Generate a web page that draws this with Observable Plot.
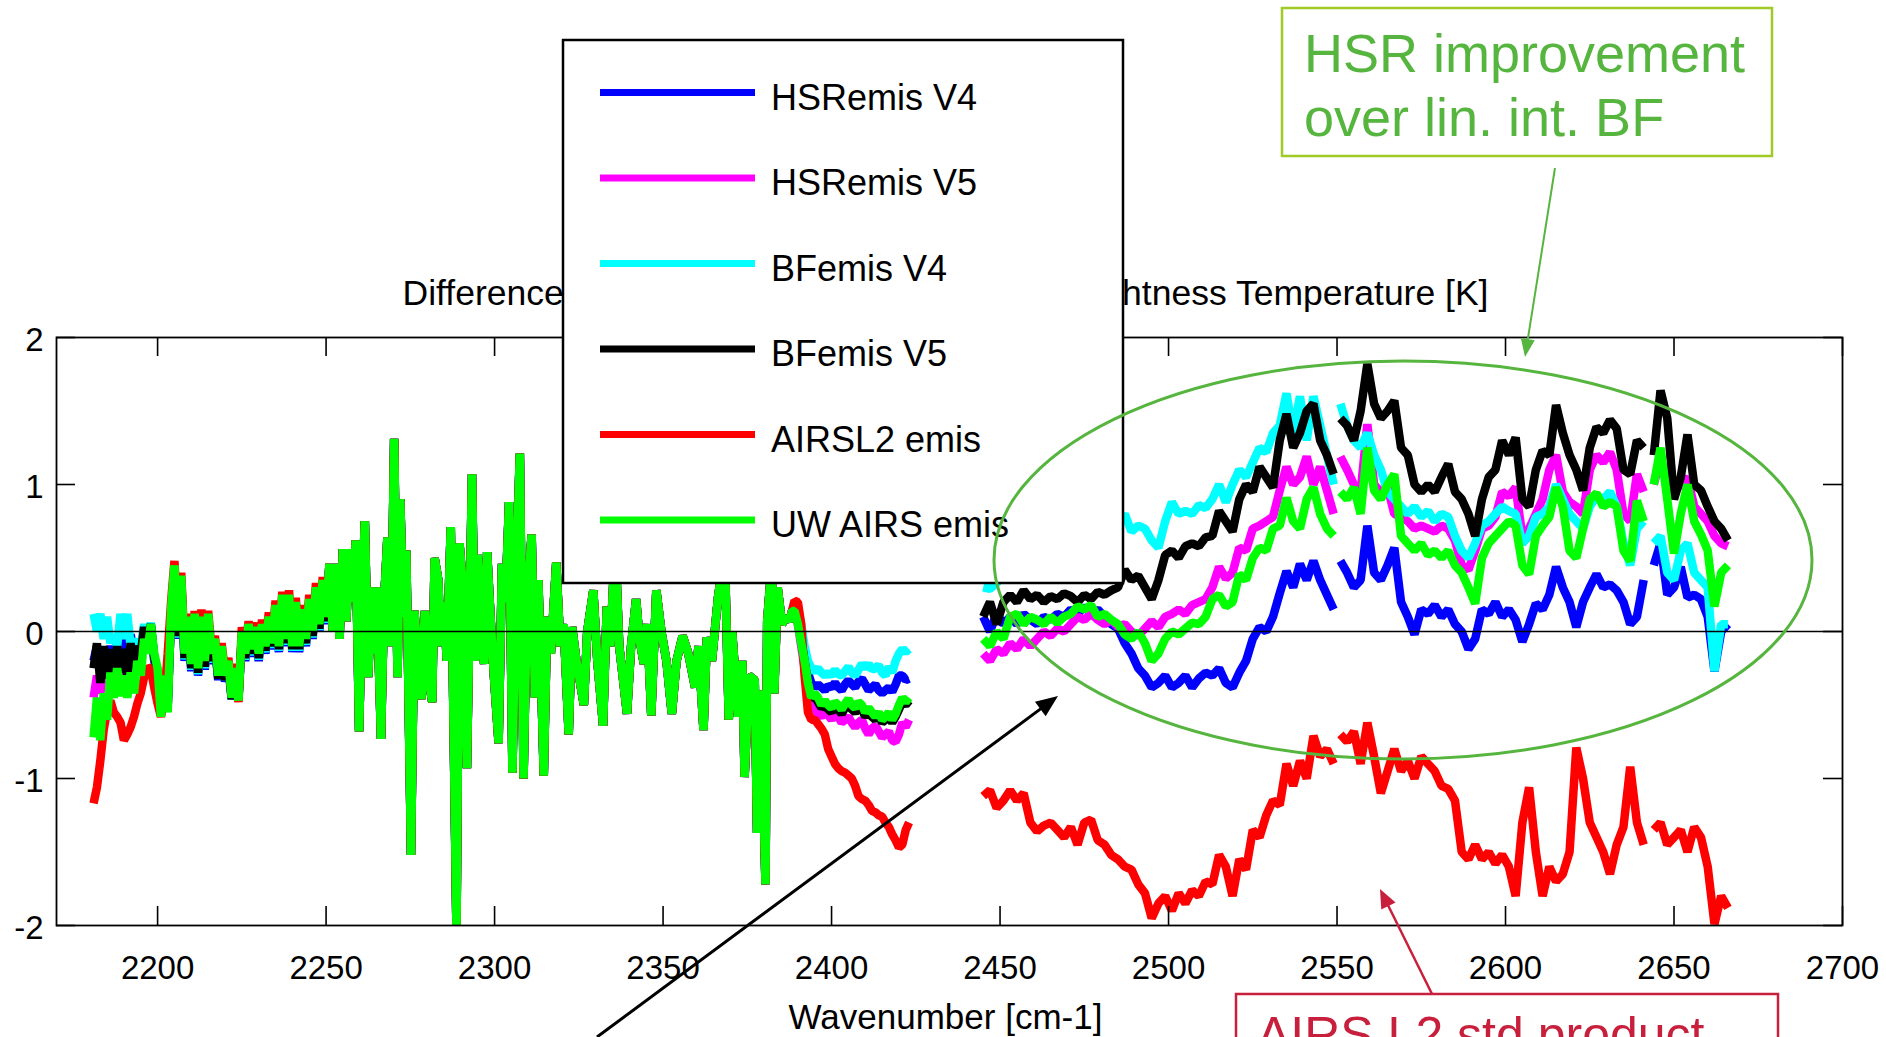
<!DOCTYPE html>
<html>
<head>
<meta charset="utf-8">
<script src="https://cdn.jsdelivr.net/npm/d3@7"></script>
<script src="https://cdn.jsdelivr.net/npm/@observablehq/plot@0.6"></script>
<style>
  html, body { margin: 0; padding: 0; background: #fff; overflow: hidden; }
  #chart { position: relative; width: 1886px; height: 1037px; }
</style>
</head>
<body>
<div id="chart"></div>
<script>
// ---------------- DATA ----------------
const titleText = "Difference of Calculated minus Observed Brightness Temperature [K]";
const xLabel = "Wavenumber [cm-1]";
const xTicks = [2200, 2250, 2300, 2350, 2400, 2450, 2500, 2550, 2600, 2650, 2700];
const yTicks = [-2, -1, 0, 1, 2];
const seriesNames = ["HSRemis V4", "HSRemis V5", "BFemis V4", "BFemis V5", "AIRSL2 emis", "UW AIRS emis"];
const seriesColors = ["#0000ff", "#ff00ff", "#00ffff", "#000000", "#ff0000", "#00ff00"];

// wavenumber grids of the segments
const wnLeft = d3.range(2181, 2251);      // 2181..2250
const wnC = d3.range(2389, 2424);         // 2389..2423
const wnD1 = d3.range(2445, 2550, 2);     // 2445..2549
const wnD2 = d3.range(2551, 2642, 2);     // 2551..2641
const wnD3 = d3.range(2644, 2667, 2);     // 2644..2666

// shared spiky middle band (all series coincide there)
const midWn = [2251,2252,2253,2254,2255,2256,2257,2258,2258.8,2259.8,
  2260.8,2261.5,2262.5,2263.5,2264.3,2265,2266.3,2267.2,2268.2,2269.3,
  2270.2,2271.2,2272,2273,2273.8,2275.2,2276.2,2277.3,2278.3,2279.3,
  2280.3,2281.5,2282.2,2283.3,2284,2285,2285.8,2287,2288.7,2289.6,
  2290.6,2291.8,2293.3,2294.2,2295,2296,2296.9,2297.8,2298.8,2299.8,
  2301.2,2302.2,2303.2,2304.3,2305.3,2306.3,2307.5,2308.6,2309.6,2311,
  2312,2313,2314.6,2315.6,2316.7,2318.3,2319.5,2320.5,2322,2323,
  2324.3,2326.5,2327.5,2329.3,2330.5,2332.2,2333.3,2334.3,2335.8,2337,
  2339.3,2340.5,2342,2343,2344.3,2345.3,2346.5,2348,2349.5,2351,
  2352.6,2354,2355.8,2357.5,2359.5,2360.5,2362,2363,2364.5,2366.3,
  2368.3,2369.5,2370.5,2372.3,2373.5,2374.2,2375.5,2377.2,2377.9,2379,
  2380.4,2380.9,2382.2,2383,2384,2385.3,2386.5,2387.5,2388.3];
const midVal = [0.46,0.0,0.46,-0.05,0.56,0.07,0.56,0.2,0.62,-0.68,
  0.3,0.75,-0.31,0.3,-0.15,0.3,-0.73,0.2,0.64,-0.1,
  1.31,-0.31,0.9,0.1,0.55,-1.52,0.14,-0.2,-0.46,0.14,
  -0.3,-0.48,0.5,0.35,-0.1,0.2,-0.2,0.71,-2.05,0.6,
  0.3,-0.93,1.07,-0.2,0.52,0.0,-0.22,0.54,0.1,-0.3,
  -0.76,0.46,0.2,0.88,-0.96,0.3,1.21,-1.0,0.2,0.66,
  -0.45,0.35,-0.98,0.1,-0.15,0.47,-0.1,0.05,-0.7,0.03,
  -0.2,-0.5,0.0,0.28,-0.2,-0.64,0.17,-0.1,0.6,-0.1,
  -0.56,-0.1,0.22,-0.05,-0.22,0.05,-0.57,0.28,0.0,-0.2,
  -0.56,-0.2,-0.03,-0.15,-0.38,-0.1,-0.67,-0.04,-0.2,0.23,
  0.55,-0.6,0.0,-0.58,-0.2,-0.99,-0.3,-0.33,-1.37,-0.4,
  -1.72,0.07,0.45,-0.42,0.3,0.05,0.1,0.07,0.14];

// HSRemis V4 (blue)
const hsr4_A = [-0.2,-0.1,-0.22,-0.12,-0.2,-0.1,-0.18,-0.08,-0.15,-0.05,
  -0.12,-0.02,-0.15,-0.08,-0.12,0.0,-0.12,0.02,-0.2,-0.28,
  -0.55,-0.32,-0.5,0.12,0.4,-0.05,0.33,-0.2,0.05,-0.27,
  0.07,-0.3,0.05,-0.26,0.07,-0.22,-0.1,-0.33,-0.15,-0.34,
  -0.24,-0.46,-0.3,-0.45,-0.05,-0.2,0.0,-0.17,-0.02,-0.2,
  0.0,-0.15,0.05,-0.12,0.13,-0.14,0.2,-0.1,0.2,-0.14,
  0.15,-0.14,0.1,-0.1,0.17,-0.05,0.25,0.0,0.3,0.05];
const hsr4_C = [0.18,0.12,0.0,-0.15,-0.28,-0.35,-0.38,-0.36,-0.38,-0.4,
  -0.37,-0.38,-0.35,-0.38,-0.4,-0.36,-0.33,-0.36,-0.38,-0.34,
  -0.32,-0.36,-0.4,-0.38,-0.36,-0.4,-0.42,-0.4,-0.38,-0.41,
  -0.36,-0.3,-0.3,-0.33,-0.32];
const hsr4_D1 = [0.1,0.0,0.12,0.05,0.1,0.05,0.12,0.08,0.05,0.1,
  0.08,0.12,0.1,0.15,0.12,0.17,0.12,0.15,0.1,0.05,
  0.02,-0.08,-0.15,-0.25,-0.3,-0.38,-0.35,-0.3,-0.38,-0.35,
  -0.3,-0.38,-0.32,-0.28,-0.3,-0.25,-0.35,-0.38,-0.28,-0.2,
  -0.05,0.03,0.0,0.1,0.26,0.41,0.3,0.46,0.35,0.48,
  0.35,0.25,0.15];
const hsr4_D2 = [0.48,0.4,0.3,0.35,0.72,0.4,0.35,0.45,0.57,0.2,
  0.1,-0.02,0.15,0.12,0.18,0.1,0.15,0.05,0.0,-0.12,
  -0.05,0.15,0.12,0.2,0.1,0.15,0.08,-0.07,0.05,0.19,
  0.15,0.25,0.44,0.3,0.2,0.03,0.2,0.3,0.39,0.3,
  0.32,0.28,0.2,0.05,0.1,0.35];
const hsr4_D3 = [0.45,0.6,0.25,0.3,0.44,0.23,0.25,0.22,0.1,-0.27,0.0,0.05];

// HSRemis V5 (magenta)
const hsr5_A = [-0.45,-0.3,-0.42,-0.28,-0.35,-0.25,-0.32,-0.22,-0.35,-0.28,
  -0.35,-0.22,-0.3,-0.15,-0.2,-0.03,-0.13,0.04,-0.17,-0.27,
  -0.57,-0.31,-0.52,0.13,0.43,-0.02,0.36,-0.17,0.08,-0.24,
  0.1,-0.27,0.08,-0.22,0.1,-0.18,-0.07,-0.31,-0.12,-0.32,
  -0.22,-0.46,-0.27,-0.47,-0.02,-0.17,0.03,-0.14,0.01,-0.17,
  0.03,-0.12,0.08,-0.1,0.16,-0.12,0.23,-0.07,0.23,-0.12,
  0.18,-0.12,0.13,-0.07,0.2,-0.02,0.28,0.03,0.33,0.08];
const hsr5_C = [0.14,0.05,-0.1,-0.25,-0.4,-0.5,-0.52,-0.56,-0.58,-0.55,
  -0.57,-0.6,-0.56,-0.58,-0.62,-0.6,-0.58,-0.62,-0.65,-0.62,
  -0.6,-0.66,-0.7,-0.66,-0.64,-0.68,-0.72,-0.7,-0.68,-0.74,
  -0.75,-0.7,-0.62,-0.65,-0.6];
const hsr5_D1 = [-0.15,-0.2,-0.12,-0.15,-0.08,-0.12,-0.05,-0.1,-0.05,0.0,
  -0.03,0.02,0.0,0.05,0.1,0.08,0.12,0.08,0.05,0.08,
  0.03,0.05,0.0,-0.03,0.02,0.07,0.03,0.1,0.12,0.15,
  0.12,0.18,0.2,0.22,0.3,0.44,0.36,0.4,0.57,0.55,
  0.7,0.72,0.75,0.78,0.96,1.12,1.0,1.05,1.19,1.0,
  1.12,0.96,0.8];
const hsr5_D2 = [1.19,1.1,1.0,0.95,1.41,1.0,0.95,0.98,0.8,0.78,
  0.75,0.7,0.72,0.7,0.68,0.72,0.7,0.62,0.45,0.42,
  0.55,0.7,0.72,0.78,0.95,0.92,0.98,0.65,0.7,0.8,
  0.9,1.1,1.2,0.95,0.88,0.85,0.8,1.1,1.2,1.15,
  1.22,1.1,0.8,0.75,1.07,0.95];
const hsr5_D3 = [1.0,1.18,1.0,0.95,1.0,1.05,0.85,0.8,0.75,0.65,0.6,0.58];

// BFemis V4 (cyan)
const bf4_A = [0.12,0.0,0.12,-0.05,0.1,-0.08,-0.02,-0.1,0.12,-0.05,
  0.12,-0.1,-0.05,-0.17,-0.1,0.05,-0.1,0.06,-0.18,-0.27,
  -0.56,-0.31,-0.5,0.13,0.41,-0.04,0.34,-0.19,0.06,-0.26,
  0.08,-0.29,0.06,-0.25,0.08,-0.21,-0.09,-0.32,-0.14,-0.33,
  -0.23,-0.46,-0.29,-0.46,-0.04,-0.19,0.01,-0.16,-0.01,-0.19,
  0.01,-0.14,0.06,-0.11,0.14,-0.13,0.21,-0.09,0.21,-0.13,
  0.16,-0.13,0.11,-0.09,0.18,-0.04,0.26,0.01,0.31,0.06];
const bf4_C = [0.2,0.15,0.05,-0.1,-0.2,-0.25,-0.27,-0.25,-0.28,-0.3,
  -0.28,-0.3,-0.26,-0.29,-0.3,-0.27,-0.24,-0.28,-0.3,-0.26,
  -0.22,-0.25,-0.22,-0.26,-0.25,-0.23,-0.28,-0.3,-0.24,-0.28,
  -0.2,-0.15,-0.12,-0.14,-0.12];
const bf4_D1 = [0.3,0.29,0.33,0.38,0.4,0.42,0.45,0.48,0.5,0.52,
  0.5,0.55,0.58,0.6,0.62,0.6,0.65,0.68,0.7,0.68,
  0.72,0.8,0.68,0.72,0.7,0.62,0.57,0.75,0.88,0.8,
  0.82,0.8,0.86,0.84,0.9,1.0,0.88,1.0,1.1,1.05,
  1.15,1.25,1.22,1.35,1.4,1.62,1.35,1.6,1.3,1.6,
  1.4,1.2,1.0];
const bf4_D2 = [1.55,1.4,1.3,1.25,1.35,1.2,1.1,0.95,0.9,0.85,
  0.8,0.85,0.78,0.82,0.75,0.8,0.78,0.65,0.55,0.5,
  0.6,0.72,0.75,0.8,0.85,0.82,0.8,0.6,0.65,0.78,
  0.8,0.85,1.0,0.9,0.8,0.75,0.7,0.85,0.92,0.9,
  0.95,0.85,0.6,0.45,0.7,0.75];
const bf4_D3 = [0.6,0.65,0.4,0.35,0.55,0.6,0.4,0.35,0.3,-0.27,0.05,0.05];

// BFemis V5 (black)
const bf5_A = [-0.25,-0.08,-0.35,-0.1,-0.32,-0.12,-0.3,-0.1,-0.28,-0.12,
  -0.3,-0.08,-0.25,-0.1,-0.15,0.03,-0.1,0.05,-0.18,-0.27,
  -0.56,-0.31,-0.51,0.13,0.41,-0.03,0.35,-0.18,0.07,-0.25,
  0.09,-0.28,0.07,-0.24,0.09,-0.2,-0.08,-0.32,-0.13,-0.33,
  -0.23,-0.46,-0.28,-0.46,-0.03,-0.18,0.02,-0.15,0.0,-0.18,
  0.02,-0.13,0.07,-0.1,0.15,-0.12,0.22,-0.08,0.22,-0.12,
  0.17,-0.12,0.12,-0.08,0.19,-0.03,0.27,0.02,0.32,0.07];
const bf5_C = [0.16,0.08,-0.06,-0.2,-0.35,-0.46,-0.44,-0.48,-0.52,-0.5,
  -0.53,-0.55,-0.5,-0.53,-0.56,-0.52,-0.5,-0.53,-0.55,-0.52,
  -0.53,-0.58,-0.55,-0.58,-0.6,-0.57,-0.62,-0.6,-0.58,-0.62,
  -0.58,-0.53,-0.48,-0.5,-0.47];
const bf5_D1 = [0.1,0.2,0.05,0.2,0.25,0.2,0.28,0.22,0.25,0.2,
  0.24,0.22,0.26,0.24,0.2,0.25,0.22,0.27,0.25,0.28,
  0.3,0.42,0.35,0.38,0.3,0.22,0.35,0.52,0.55,0.5,
  0.58,0.6,0.58,0.64,0.65,0.82,0.75,0.68,0.9,1.0,
  0.95,1.12,1.05,0.98,1.3,1.48,1.25,1.35,1.5,1.55,
  1.3,1.2,1.07];
const bf5_D2 = [1.45,1.4,1.3,1.5,1.82,1.55,1.45,1.5,1.57,1.25,
  1.2,1.0,0.95,1.0,0.95,1.05,1.14,0.95,0.9,0.8,
  0.65,0.9,1.05,1.1,1.3,1.2,1.32,0.9,0.85,1.1,
  1.23,1.2,1.54,1.35,1.2,1.1,0.96,1.25,1.39,1.35,
  1.44,1.38,1.1,1.07,1.3,1.25];
const bf5_D3 = [1.2,1.64,1.45,0.9,1.05,1.34,1.0,0.96,0.85,0.75,0.7,0.62];

// AIRSL2 emis (red)
const l2_A = [-1.17,-1.06,-0.88,-0.67,-0.54,-0.47,-0.55,-0.58,-0.62,-0.74,
  -0.7,-0.65,-0.58,-0.49,-0.42,-0.31,-0.24,-0.26,-0.38,-0.49,
  -0.58,-0.45,-0.15,0.2,0.48,0.05,0.4,-0.1,0.12,-0.2,
  0.14,-0.22,0.15,-0.18,0.14,-0.12,-0.03,-0.28,-0.08,-0.28,
  -0.18,-0.44,-0.22,-0.48,0.03,-0.13,0.07,-0.1,0.06,-0.12,
  0.08,-0.08,0.13,-0.05,0.21,-0.08,0.27,-0.03,0.28,-0.08,
  0.23,-0.08,0.18,-0.03,0.25,0.02,0.33,0.07,0.37,0.1];
const l2_C = [0.21,0.2,0.05,-0.3,-0.55,-0.6,-0.6,-0.63,-0.66,-0.7,
  -0.8,-0.85,-0.9,-0.93,-0.95,-0.96,-0.98,-1.0,-1.05,-1.12,
  -1.14,-1.15,-1.18,-1.22,-1.23,-1.25,-1.26,-1.3,-1.33,-1.38,
  -1.42,-1.47,-1.45,-1.35,-1.3];
const l2_D1 = [-1.12,-1.08,-1.2,-1.15,-1.08,-1.15,-1.1,-1.3,-1.36,-1.32,
  -1.3,-1.35,-1.4,-1.33,-1.45,-1.3,-1.28,-1.42,-1.45,-1.52,
  -1.55,-1.6,-1.62,-1.72,-1.78,-1.95,-1.85,-1.8,-1.9,-1.78,
  -1.85,-1.76,-1.8,-1.7,-1.72,-1.52,-1.6,-1.8,-1.55,-1.62,
  -1.35,-1.4,-1.25,-1.15,-1.18,-0.9,-1.05,-0.88,-1.0,-0.71,
  -0.85,-0.8,-0.9];
const l2_D2 = [-0.7,-0.75,-0.68,-0.9,-0.62,-0.85,-1.1,-0.95,-0.8,-0.95,
  -0.88,-1.0,-0.85,-0.9,-0.95,-1.05,-1.07,-1.15,-1.5,-1.55,
  -1.45,-1.55,-1.5,-1.58,-1.52,-1.6,-1.8,-1.3,-1.06,-1.5,
  -1.8,-1.6,-1.7,-1.65,-1.5,-0.79,-1.0,-1.3,-1.4,-1.5,
  -1.65,-1.45,-1.33,-0.92,-1.3,-1.45];
const l2_D3 = [-1.35,-1.3,-1.45,-1.4,-1.35,-1.5,-1.33,-1.4,-1.6,-1.99,-1.8,-1.88];

// UW AIRS emis (green)
const uw_A = [-0.72,-0.45,-0.74,-0.42,-0.6,-0.28,-0.45,-0.25,-0.44,-0.3,
  -0.45,-0.28,-0.42,-0.2,-0.3,-0.05,-0.15,0.05,-0.15,-0.25,
  -0.58,-0.3,-0.55,0.15,0.45,0.0,0.38,-0.15,0.1,-0.22,
  0.12,-0.25,0.1,-0.2,0.12,-0.15,-0.05,-0.3,-0.1,-0.3,
  -0.2,-0.45,-0.25,-0.47,0.0,-0.15,0.05,-0.12,0.03,-0.15,
  0.05,-0.1,0.1,-0.08,0.18,-0.1,0.25,-0.05,0.25,-0.1,
  0.2,-0.1,0.15,-0.05,0.22,0.0,0.3,0.05,0.35,0.1];
const uw_C = [0.14,0.05,-0.08,-0.2,-0.35,-0.45,-0.42,-0.45,-0.5,-0.47,
  -0.5,-0.52,-0.48,-0.5,-0.53,-0.49,-0.46,-0.5,-0.52,-0.48,
  -0.5,-0.55,-0.52,-0.55,-0.58,-0.55,-0.6,-0.58,-0.55,-0.6,
  -0.56,-0.5,-0.45,-0.48,-0.45];
const uw_D1 = [-0.05,-0.1,0.0,-0.05,0.1,0.12,0.05,0.1,0.08,0.05,
  0.1,0.06,0.1,0.12,0.17,0.15,0.18,0.1,0.12,0.08,
  0.05,-0.02,-0.05,0.0,-0.08,-0.2,-0.15,-0.05,0.0,-0.02,
  0.02,0.06,0.05,0.1,0.22,0.25,0.17,0.2,0.39,0.35,
  0.5,0.57,0.55,0.7,0.72,0.91,0.75,0.7,0.9,0.98,
  0.8,0.7,0.65];
const uw_D2 = [0.95,0.9,0.98,0.8,1.25,0.96,0.9,1.0,1.07,0.65,
  0.6,0.55,0.6,0.52,0.55,0.5,0.55,0.45,0.4,0.3,
  0.19,0.5,0.6,0.65,0.7,0.75,0.72,0.45,0.39,0.65,
  0.72,0.78,0.98,0.85,0.55,0.5,0.7,0.9,0.94,0.85,
  0.88,0.85,0.55,0.48,0.89,0.75];
const uw_D3 = [1.0,1.25,0.9,0.53,0.8,1.0,0.75,0.66,0.55,0.17,0.4,0.45];

// annotation texts
const noteGreen = ["HSR improvement", "over lin. int. BF"];
const noteRed = "AIRS L2 std product";

// ---------------- BUILD ----------------
const seriesParts = [
  [hsr4_A, hsr4_C, hsr4_D1, hsr4_D2, hsr4_D3],
  [hsr5_A, hsr5_C, hsr5_D1, hsr5_D2, hsr5_D3],
  [bf4_A, bf4_C, bf4_D1, bf4_D2, bf4_D3],
  [bf5_A, bf5_C, bf5_D1, bf5_D2, bf5_D3],
  [l2_A, l2_C, l2_D1, l2_D2, l2_D3],
  [uw_A, uw_C, uw_D1, uw_D2, uw_D3]
];

function rowsFor(parts, name) {
  const rows = [];
  const push = (wns, vals, seg) => {
    const n = Math.min(wns.length, vals.length);
    for (let i = 0; i < n; i++) rows.push({series: name, seg, wn: wns[i], v: vals[i]});
  };
  push(wnLeft, parts[0], 0);
  push(midWn, midVal, 0);
  push(wnC, parts[1], 0);
  push(wnD1, parts[2], 1);
  push(wnD2, parts[3], 2);
  push(wnD3, parts[4], 3);
  return rows;
}

const FONT = "'Liberation Sans', Arial, Helvetica, sans-serif";
const plotH = 1037 - 337 - 112;  // 588
const plotW = 1886 - 56 - 44;    // 1786
const tickLen = 19;

const lineMarks = seriesNames.map((name, i) =>
  Plot.line(rowsFor(seriesParts[i], name), {
    x: "wn", y: "v", z: "seg",
    stroke: seriesColors[i], strokeWidth: 8.5,
    strokeLinejoin: "bevel", strokeLinecap: "butt", clip: true
  })
);

const chart = Plot.plot({
  width: 1886,
  height: 1037,
  marginLeft: 56, marginRight: 44, marginTop: 337, marginBottom: 112,
  style: {fontFamily: FONT, background: "white", color: "black", overflow: "visible"},
  x: {domain: [2170, 2700], label: null},
  y: {domain: [-2, 2], label: null},
  marks: [
    ...lineMarks,
    Plot.ruleY([0], {stroke: "black", strokeWidth: 1.6}),
    Plot.ruleX(xTicks, {insetTop: plotH - tickLen, stroke: "black", strokeWidth: 1.6}),
    Plot.ruleX(xTicks, {insetBottom: plotH - tickLen, stroke: "black", strokeWidth: 1.6}),
    Plot.ruleY(yTicks, {insetRight: plotW - tickLen, stroke: "black", strokeWidth: 1.6}),
    Plot.ruleY(yTicks, {insetLeft: plotW - tickLen, stroke: "black", strokeWidth: 1.6}),
    Plot.frame({stroke: "black", strokeWidth: 1.8}),
    Plot.axisX({ticks: xTicks, tickSize: 0, tickPadding: 30, fontSize: 33, tickFormat: d => String(d), label: null}),
    Plot.axisY({ticks: yTicks, tickSize: 0, tickPadding: 13, fontSize: 33, dy: 3, tickFormat: d => String(d), label: null}),
    Plot.text([titleText], {text: d => d, frameAnchor: "top", dx: -4, dy: -58, fontSize: 35.5, fill: "black"}),
    Plot.text([xLabel], {text: d => d, frameAnchor: "bottom", dx: -4, dy: 103, fontSize: 35, fill: "black"})
  ]
});

document.getElementById("chart").appendChild(chart);

// ---------------- LEGEND & ANNOTATIONS (pixel layout) ----------------
const svg = d3.select(chart);
const ann = svg.append("g").attr("font-family", FONT);

// legend box
const lg = {x: 563, y: 40, w: 560, h: 543, lineX1: 600, lineX2: 755, textX: 771, row0: 92.5, rowStep: 85.5};
ann.append("rect").attr("x", lg.x).attr("y", lg.y).attr("width", lg.w).attr("height", lg.h)
  .attr("fill", "white").attr("stroke", "black").attr("stroke-width", 2.5);
seriesNames.forEach((name, i) => {
  const yy = lg.row0 + i * lg.rowStep;
  ann.append("line").attr("x1", lg.lineX1).attr("x2", lg.lineX2).attr("y1", yy).attr("y2", yy)
    .attr("stroke", seriesColors[i]).attr("stroke-width", 7);
  ann.append("text").attr("x", lg.textX).attr("y", yy + 17).attr("font-size", 36)
    .attr("fill", "black").attr("text-anchor", "start").text(name);
});

// helper: arrow with filled triangular head
function arrow(g, x1, y1, x2, y2, color, width, headLen, headHalf) {
  const dx = x2 - x1, dy = y2 - y1, L = Math.hypot(dx, dy);
  const ux = dx / L, uy = dy / L, nx = -uy, ny = ux;
  const bx = x2 - ux * headLen, by = y2 - uy * headLen;
  g.append("line").attr("x1", x1).attr("y1", y1).attr("x2", bx + ux * 2).attr("y2", by + uy * 2)
    .attr("stroke", color).attr("stroke-width", width);
  g.append("polygon")
    .attr("points", `${x2},${y2} ${bx + nx * headHalf},${by + ny * headHalf} ${bx - nx * headHalf},${by - ny * headHalf}`)
    .attr("fill", color);
}

const GREEN = "#56b53e", GREENBOX = "#9fcb24", CRIMSON = "#c8203c";

// ellipse around the HSR region
ann.append("ellipse").attr("cx", 1403).attr("cy", 560).attr("rx", 409).attr("ry", 199)
  .attr("fill", "none").attr("stroke", GREEN).attr("stroke-width", 3);

// green note box
ann.append("rect").attr("x", 1282).attr("y", 8).attr("width", 490).attr("height", 148)
  .attr("fill", "white").attr("stroke", GREENBOX).attr("stroke-width", 2.5);
noteGreen.forEach((t, i) => {
  ann.append("text").attr("x", 1304).attr("y", 72 + i * 64).attr("font-size", 54)
    .attr("fill", GREEN).attr("text-anchor", "start").text(t);
});
arrow(ann, 1555, 168, 1525, 357, GREEN, 2, 18, 7);

// black arrow
arrow(ann, 597, 1037, 1058, 696, "black", 3, 22, 9);

// red note box (cut by the bottom edge, as in the original slide)
ann.append("rect").attr("x", 1236).attr("y", 994).attr("width", 542).attr("height", 110)
  .attr("fill", "white").attr("stroke", CRIMSON).attr("stroke-width", 2.5);
ann.append("text").attr("x", 1257).attr("y", 1052).attr("font-size", 50)
  .attr("fill", CRIMSON).attr("text-anchor", "start").text(noteRed);
arrow(ann, 1432, 994, 1380, 889, CRIMSON, 2.5, 19, 8);
</script>
</body>
</html>
